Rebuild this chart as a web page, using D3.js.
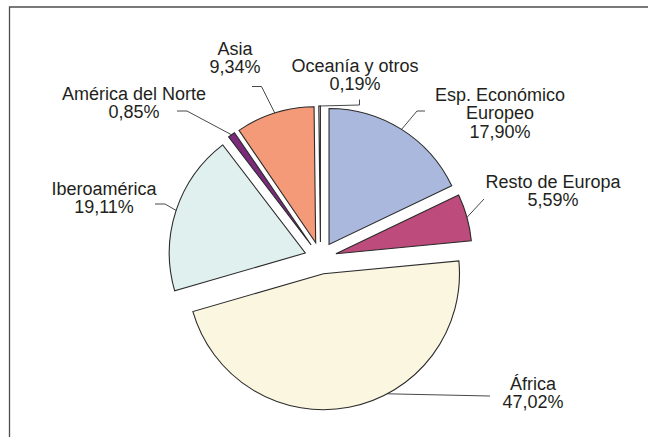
<!DOCTYPE html>
<html>
<head>
<meta charset="utf-8">
<script src="https://cdn.jsdelivr.net/npm/d3@7"></script>
<style>
  html, body { margin: 0; padding: 0; background: #fff; }
  svg text { font-family: "Liberation Sans", Arial, sans-serif; font-size: 18px; fill: #231f20; }
</style>
</head>
<body>
<div id="chart"></div>
<script>
// data
const categories = ["Esp. Económico Europeo", "Resto de Europa", "África", "Iberoamérica", "América del Norte", "Asia", "Oceanía y otros"];
const values = [17.90, 5.59, 47.02, 19.11, 0.85, 9.34, 0.19];
const nameLines = [["Esp. Económico", "Europeo"], ["Resto de Europa"], ["África"], ["Iberoamérica"], ["América del Norte"], ["Asia"], ["Oceanía y otros"]];
const colors = ["#a9b8dc", "#bd4b7b", "#fbf6e0", "#e0f0ef", "#7c2a7c", "#f49a78", "#f2f2f2"];

// label placement (first baseline, leader start, optional elbow)
const labelPos = [
  { x: 500, y: 101, start: [425, 111], elbow: [417, 111] },
  { x: 553, y: 188, start: [484, 199] },
  { x: 533, y: 390, start: [490, 396], angle: 152 },
  { x: 104, y: 195, start: [155, 204], elbow: [165, 204] },
  { x: 134, y: 100, start: [177, 111], elbow: [187, 111] },
  { x: 235, y: 55, start: [252, 86.5], elbow: [261.5, 86.5] },
  { x: 355, y: 72, start: [359.5, 99.5], elbow: [359.5, 105] }
];

const width = 648, height = 437;
const cx = 320.5, cy = 258, radius = 136, explode = 16, lineH = 18.3;

const svg = d3.select("#chart").append("svg")
  .attr("width", width)
  .attr("height", height);

// frame (left and top edges only visible)
svg.append("path")
  .attr("d", `M9.5,${height} L9.5,7 L${width},7`)
  .attr("fill", "none")
  .attr("stroke", "#4d4d4d")
  .attr("stroke-width", 1.3);

const pie = d3.pie().sort(null).value(d => d);
const arcs = pie(values);
const arc = d3.arc().innerRadius(0).outerRadius(radius);

const g = svg.append("g").attr("transform", `translate(${cx},${cy})`);

function offsetOf(d) {
  const mid = (d.startAngle + d.endAngle) / 2;
  return [Math.sin(mid) * explode, -Math.cos(mid) * explode];
}

g.selectAll(".slice")
  .data(arcs)
  .enter()
  .append("path")
  .attr("class", "slice")
  .attr("transform", d => `translate(${offsetOf(d)})`)
  .attr("d", arc)
  .attr("fill", (d, i) => colors[i])
  .attr("stroke", "#2b2b2b")
  .attr("stroke-width", 1.1)
  .attr("stroke-linejoin", "miter");

// leader lines
arcs.forEach((d, i) => {
  const lp = labelPos[i];
  const off = offsetOf(d);
  const a = lp.angle !== undefined ? lp.angle * Math.PI / 180 : (d.startAngle + d.endAngle) / 2;
  const end = [cx + off[0] + Math.sin(a) * radius, cy + off[1] - Math.cos(a) * radius];
  const pts = [lp.start];
  if (lp.elbow) pts.push(lp.elbow);
  pts.push(end);
  svg.append("path")
    .attr("d", d3.line()(pts))
    .attr("fill", "none")
    .attr("stroke", "#333")
    .attr("stroke-width", 0.9);

  const lines = nameLines[i].concat([values[i].toFixed(2).replace(".", ",") + "%"]);
  const t = svg.append("text")
    .attr("text-anchor", "middle")
    .attr("x", lp.x)
    .attr("y", lp.y);
  lines.forEach((s, k) => {
    t.append("tspan")
      .attr("x", lp.x)
      .attr("dy", k === 0 ? 0 : lineH)
      .text(s);
  });
});
</script>
</body>
</html>
